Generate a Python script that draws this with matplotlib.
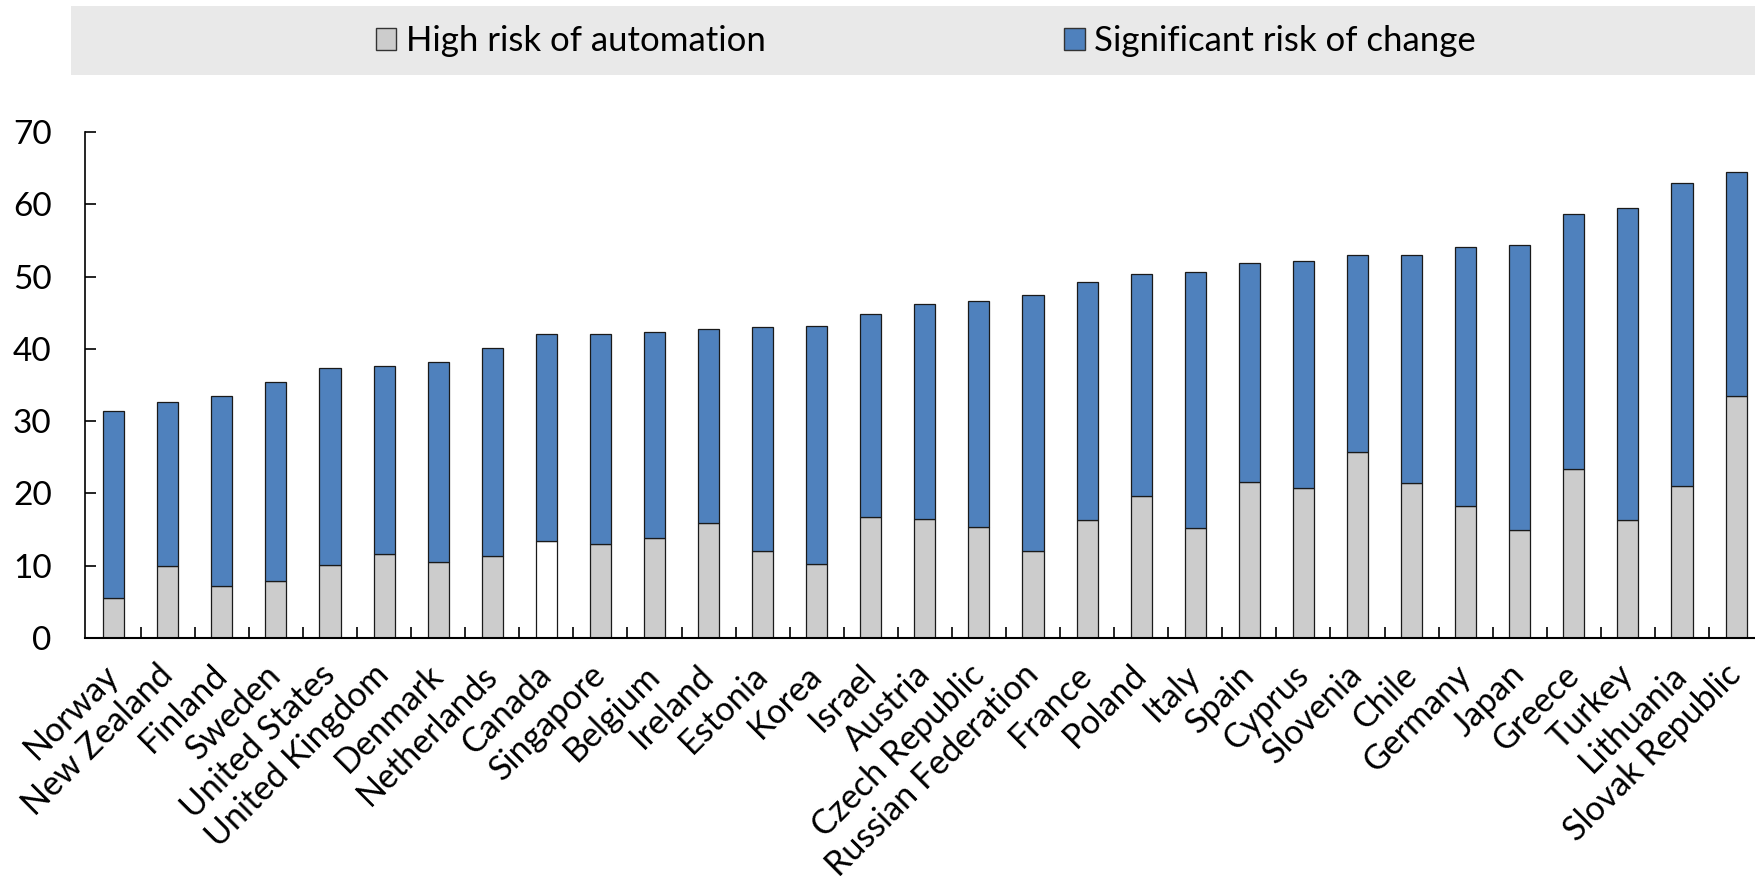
import matplotlib
matplotlib.use("Agg")
import matplotlib.pyplot as plt
from matplotlib.patches import Rectangle, Patch
import numpy as np

countries = ["Norway", "New Zealand", "Finland", "Sweden", "United States",
             "United Kingdom", "Denmark", "Netherlands", "Canada", "Singapore",
             "Belgium", "Ireland", "Estonia", "Korea", "Israel", "Austria",
             "Czech Republic", "Russian Federation", "France", "Poland", "Italy",
             "Spain", "Cyprus", "Slovenia", "Chile", "Germany", "Japan", "Greece",
             "Turkey", "Lithuania", "Slovak Republic"]

# Share of jobs at high risk of automation (%)
high_risk = [5.6, 9.9, 7.2, 7.9, 10.1, 11.6, 10.5, 11.3, 13.4, 13.0,
             13.9, 15.9, 12.1, 10.3, 16.7, 16.5, 15.4, 12.0, 16.3, 19.7, 15.2,
             21.6, 20.8, 25.7, 21.5, 18.3, 15.0, 23.4, 16.3, 21.0, 33.5]

# Combined share (high risk + significant risk of change) (%)
total_risk = [31.4, 32.7, 33.5, 35.4, 37.3, 37.6, 38.2, 40.1, 42.0, 42.0,
              42.4, 42.7, 43.0, 43.2, 44.8, 46.2, 46.6, 47.5, 49.2, 50.3, 50.7,
              51.9, 52.1, 53.0, 53.0, 54.1, 54.3, 58.6, 59.5, 63.0, 64.4]

highlight = "Canada"
yticks = [0, 10, 20, 30, 40, 50, 60, 70]
legend_labels = ["High risk of automation", "Significant risk of change"]

GRAY = "#CCCCCC"
BLUE = "#4F81BD"
FONT = "Lato"

high = np.array(high_risk)
change = np.array(total_risk) - high
x = np.arange(len(countries))

fig = plt.figure(figsize=(17.55, 8.76), dpi=100)
ax = fig.add_axes([85 / 1755, 238 / 876, 1 - 85 / 1755, 506 / 876])

low_colors = ["white" if c == highlight else GRAY for c in countries]
ax.bar(x, high, width=0.39, color=low_colors, edgecolor="#1a1a1a", linewidth=0.9, zorder=2)
ax.bar(x, change, bottom=high, width=0.39, color=BLUE, edgecolor="#1a1a1a", linewidth=0.9, zorder=2)

ax.set_xlim(-0.53, len(countries) - 1 + 0.35)
ax.set_ylim(0, 70)
ax.set_yticks(yticks)
ax.set_yticklabels([str(v) for v in yticks], fontsize=24, family=FONT)
ax.tick_params(axis="y", direction="in", length=7.7, width=1.2, pad=24)

# Category boundaries as minor ticks, labels at bar centres
ax.set_xticks(x)
ax.set_xticklabels(countries, rotation=45, ha="right", va="center",
                   rotation_mode="anchor", fontsize=24.5, family=FONT)
ax.tick_params(axis="x", which="major", length=0, pad=23)
ax.set_xticks(x[:-1] + 0.5, minor=True)
ax.tick_params(axis="x", which="minor", direction="in", length=7.7, width=1.2)

for side in ("top", "right"):
    ax.spines[side].set_visible(False)
ax.spines["left"].set_linewidth(1.2)
ax.spines["bottom"].set_linewidth(1.5)

# Legend band across the top
fig.patches.append(Rectangle((70.5 / 1755, 1 - 75 / 876), 1 - 70.5 / 1755, 69.5 / 876,
                             transform=fig.transFigure, facecolor="#E9E9E9",
                             edgecolor="none", zorder=0))
handles = [Patch(facecolor=GRAY, edgecolor="#333333", linewidth=1.0),
           Patch(facecolor=BLUE, edgecolor="#333333", linewidth=1.0)]
fig.legend(handles, legend_labels, loc="center", bbox_to_anchor=(926 / 1755, 1 - 41 / 876),
           ncol=2, frameon=False, prop={"family": FONT, "size": 25},
           handlelength=0.58, handleheight=0.58, handletextpad=0.28, columnspacing=8.6)

fig.savefig("out.png", dpi=100)
